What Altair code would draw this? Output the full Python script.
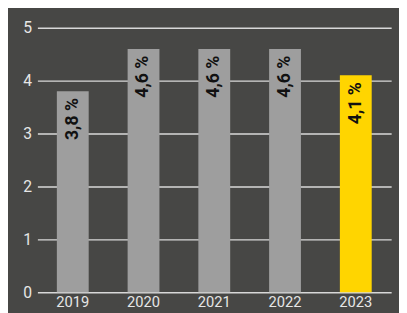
import altair as alt
import pandas as pd

years = ["2019", "2020", "2021", "2022", "2023"]
values = [3.8, 4.6, 4.6, 4.6, 4.1]
labels = ["3,8 %", "4,6 %", "4,6 %", "4,6 %", "4,1 %"]
colors = ["#9e9e9e", "#9e9e9e", "#9e9e9e", "#9e9e9e", "#ffd500"]

df = pd.DataFrame({"year": years, "value": values, "label": labels, "color": colors})

x = alt.X("year:N", title=None,
          scale=alt.Scale(paddingInner=0.55, paddingOuter=0.275),
          axis=alt.Axis(labelAngle=0, ticks=False, domain=False, labelPadding=3,
                        labelColor="#e6e6e6", labelFontSize=15, labelFont="Roboto"))
y = alt.Y("value:Q", title=None,
          scale=alt.Scale(domain=[0, 5]),
          axis=alt.Axis(values=[0, 1, 2, 3, 4, 5], ticks=False, domain=False, labelPadding=6,
                        labelColor="#e6e6e6", labelFontSize=16, labelFont="Roboto",
                        grid=True, gridColor="#d8d8d8", gridWidth=1.5))

bars = alt.Chart(df).mark_bar().encode(x=x, y=y, color=alt.Color("color:N", scale=None))
text = alt.Chart(df).mark_text(angle=270, align="right", baseline="middle", dx=-7,
                               fontSize=18, fontWeight="bold", font="Roboto",
                               color="#111111").encode(x="year:N", y="value:Q", text="label:N")

chart = (bars + text).properties(
    width=361, height=270,
    autosize=alt.AutoSizeParams(type="none"),
    padding={"left": 30, "top": 17, "right": 8, "bottom": 18},
    background="#474745",
).configure_view(stroke=None)

chart.save("out.html", embed_options={"renderer": "svg", "actions": False})
